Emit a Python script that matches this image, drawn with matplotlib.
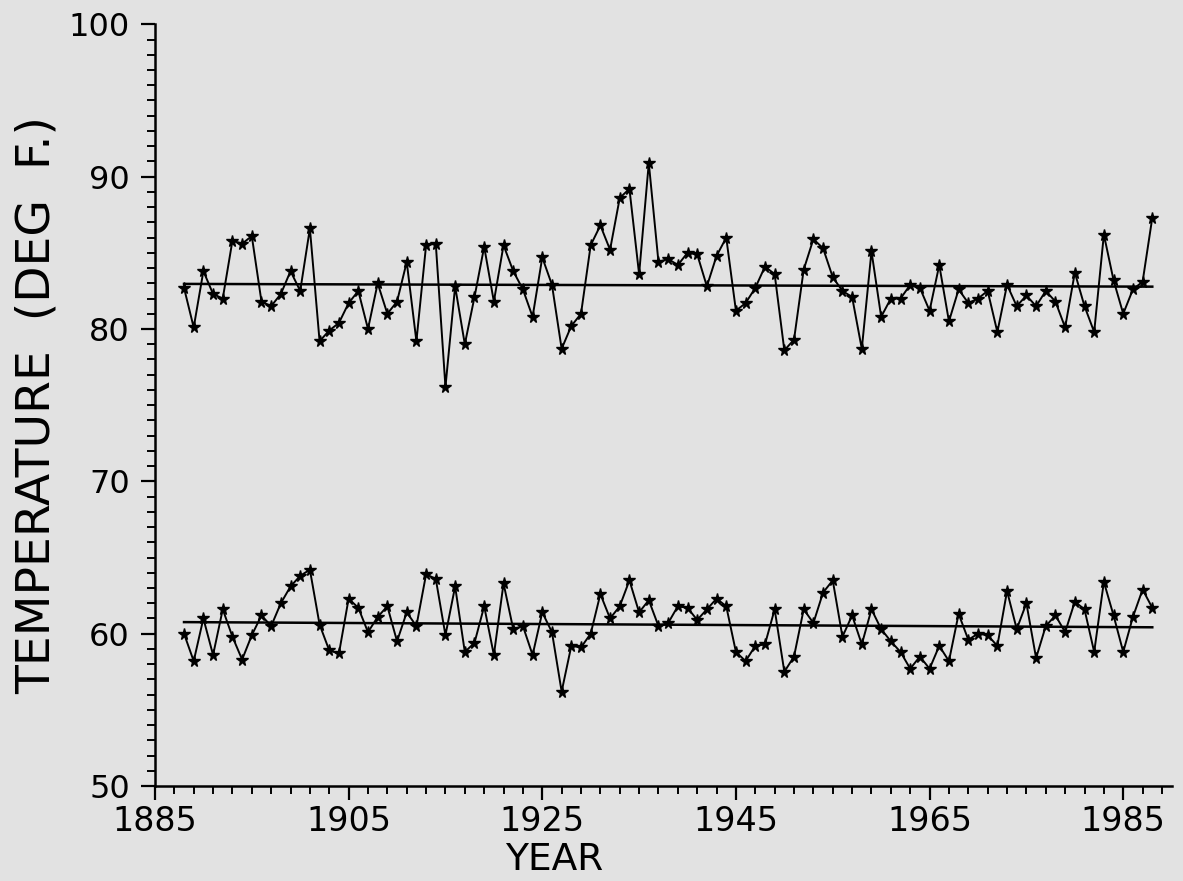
import matplotlib
matplotlib.use("Agg")
import matplotlib.pyplot as plt
from matplotlib.ticker import MultipleLocator, FixedLocator

years = list(range(1888, 1989))

summer_temp = [82.7, 80.1, 83.8, 82.3, 82.0, 85.8, 85.6, 86.1, 81.8, 81.5,
               82.3, 83.8, 82.5, 86.6, 79.2, 79.9, 80.4, 81.7, 82.5, 80.0,
               83.0, 81.0, 81.8, 84.4, 79.2, 85.5, 85.6, 76.2, 82.8, 79.0,
               82.1, 85.4, 81.8, 85.5, 83.8, 82.6, 80.8, 84.7, 82.9, 78.7,
               80.2, 81.0, 85.5, 86.8, 85.2, 88.6, 89.2, 83.6, 90.9, 84.4,
               84.6, 84.2, 85.0, 84.9, 82.8, 84.8, 86.0, 81.2, 81.7, 82.7,
               84.1, 83.6, 78.6, 79.3, 83.9, 85.9, 85.3, 83.4, 82.5, 82.1,
               78.7, 85.1, 80.8, 82.0, 82.0, 82.9, 82.7, 81.2, 84.2, 80.5,
               82.6, 81.7, 82.0, 82.5, 79.8, 82.9, 81.5, 82.2, 81.5, 82.5,
               81.8, 80.1, 83.7, 81.5, 79.8, 86.2, 83.2, 81.0, 82.6, 83.1,
               87.3]

annual_temp = [60.0, 58.2, 61.0, 58.6, 61.6, 59.8, 58.3, 59.9, 61.2, 60.5,
               62.0, 63.1, 63.8, 64.2, 60.6, 58.9, 58.7, 62.3, 61.7, 60.1,
               61.1, 61.8, 59.5, 61.4, 60.5, 63.9, 63.6, 59.9, 63.1, 58.8,
               59.4, 61.8, 58.6, 63.3, 60.3, 60.5, 58.6, 61.4, 60.1, 56.2,
               59.2, 59.1, 60.0, 62.6, 61.0, 61.8, 63.5, 61.4, 62.2, 60.5,
               60.7, 61.8, 61.7, 60.9, 61.6, 62.3, 61.8, 58.8, 58.2, 59.2,
               59.3, 61.6, 57.5, 58.5, 61.6, 60.7, 62.7, 63.5, 59.8, 61.2,
               59.3, 61.6, 60.3, 59.5, 58.8, 57.7, 58.5, 57.7, 59.2, 58.2,
               61.3, 59.6, 60.0, 59.9, 59.2, 62.8, 60.3, 62.0, 58.4, 60.5,
               61.2, 60.1, 62.1, 61.6, 58.8, 63.4, 61.2, 58.8, 61.1, 62.9,
               61.7]

trend_years = [1888, 1988]
summer_trend = [82.96, 82.78]
annual_trend = [60.76, 60.42]

x_ticks = [1885, 1905, 1925, 1945, 1965, 1985]
y_ticks = [50, 60, 70, 80, 90, 100]

bg = "#e2e2e2"
fig = plt.figure(figsize=(11.83, 8.81), dpi=100, facecolor=bg)
ax = fig.add_axes([0.131, 0.1078, 0.8594, 0.8646], facecolor=bg)

for series, trend in ((summer_temp, summer_trend), (annual_temp, annual_trend)):
    ax.plot(years, series, color="black", lw=1.4, marker="*", ms=8.5,
            mec="black", mfc="black", zorder=3)
    ax.plot(trend_years, trend, color="black", lw=1.8, zorder=2)

ax.set_xlim(1885, 1990)
ax.set_ylim(50, 100)
ax.xaxis.set_major_locator(FixedLocator(x_ticks))
ax.xaxis.set_minor_locator(MultipleLocator(2, offset=1))
ax.yaxis.set_major_locator(FixedLocator(y_ticks))
ax.yaxis.set_minor_locator(MultipleLocator(1))

for s in ("top", "right"):
    ax.spines[s].set_visible(False)
for s in ("left", "bottom"):
    ax.spines[s].set_linewidth(1.8)

ax.tick_params(axis="both", which="major", direction="out", length=10,
               width=1.6, color="black", labelcolor="black")
ax.tick_params(axis="y", which="major", pad=8, labelsize=23)
ax.tick_params(axis="x", which="major", pad=4, labelsize=24)
ax.tick_params(axis="both", which="minor", direction="out", length=6,
               width=1.4, color="black")

ax.set_ylabel("TEMPERATURE  (DEG  F.)", fontsize=34, color="black")
ax.yaxis.set_label_coords(-0.094, 0.5)
ax.set_xlabel("YEAR", fontsize=27, color="black")
ax.xaxis.set_label_coords(0.393, -0.073)

fig.savefig("out.png", dpi=100, facecolor=bg)
